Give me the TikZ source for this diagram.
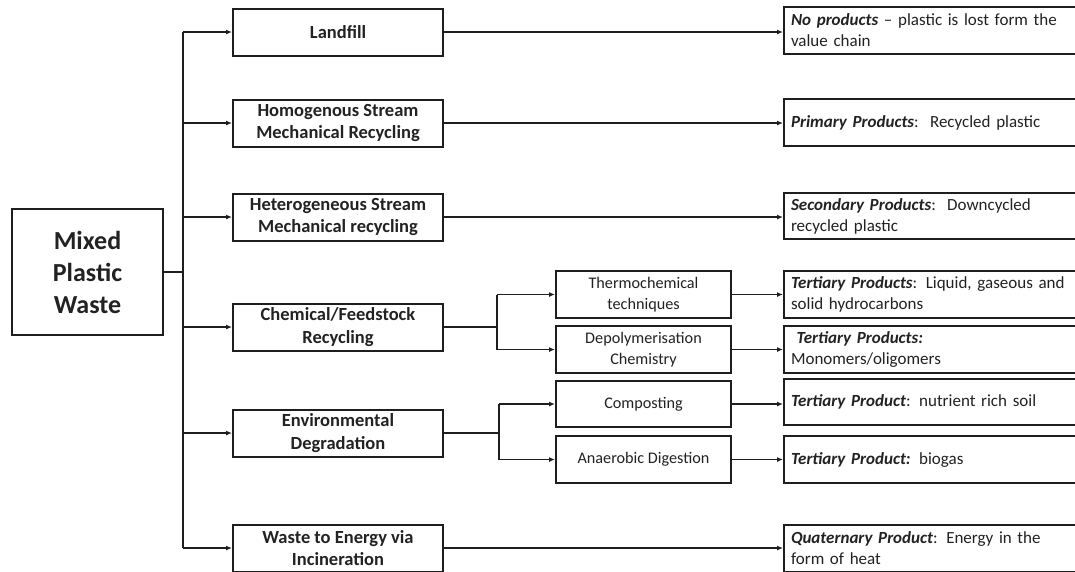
\documentclass[tikz,border=0pt]{standalone}
\usepackage{fontspec}
\setmainfont{Carlito}
\usetikzlibrary{arrows.meta}
\definecolor{ink}{HTML}{1E1E1E}
\definecolor{txt}{HTML}{222222}
\tikzset{
  box/.style={draw=ink, line width=2pt, fill=white, inner sep=0pt, align=center, text=txt},
  mainbox/.style={box, minimum width=210pt, minimum height=47pt, font=\fontsize{18.5}{22.5}\selectfont\bfseries},
  subbox/.style={box, minimum width=175pt, minimum height=47pt, font=\fontsize{16.2}{21}\selectfont},
  resbox/.style={box, minimum width=306pt, minimum height=47pt, text width=292pt, inner xsep=7pt, align=left, font=\fontsize{17}{21}\selectfont},
  conn/.style={draw=ink, line width=1.8pt},
  arr/.style={conn, -{Latex[length=6pt,width=5pt]}},
}
\newcommand{\bi}[1]{\textbf{\textit{#1}}}
\begin{document}
\begin{tikzpicture}[x=1pt,y=-1pt]
\useasboundingbox (0,0) rectangle (1075,571);
\clip (0,0) rectangle (1075,571);
\fill[white] (0,0) rectangle (1075,571);
% left box
\node[box, minimum width=151pt, minimum height=126pt, font=\fontsize{26}{32}\selectfont\bfseries] (M) at (87.5,272) {Mixed\\Plastic\\Waste};
% main column
\node[mainbox] (L) at (338,32) {Landfill};
\node[mainbox] (H) at (338,123) {Homogenous Stream\\Mechanical Recycling};
\node[mainbox] (E) at (338,217) {Heterogeneous Stream\\Mechanical recycling};
\node[mainbox] (C) at (338,327) {Chemical/Feedstock\\Recycling};
\node[mainbox] (V) at (338,433) {Environmental\\Degradation};
\node[mainbox] (W) at (338,548) {Waste to Energy via\\Incineration};
% sub column
\node[subbox] (T) at (643.5,294.5) {Thermochemical\\techniques};
\node[subbox] (D) at (643.5,349.5) {Depolymerisation\\Chemistry};
\node[subbox, minimum height=46pt] (K) at (643.5,404) {Composting};
\node[subbox] (A) at (643.5,459.5) {Anaerobic Digestion};
% results
\node[resbox] (R1) at (937,30.5) {\bi{No products} -- plastic is lost form the\\value chain};
\node[resbox] (R2) at (937,122.5) {\bi{Primary Products}:\ \ Recycled plastic};
\node[resbox, minimum height=46pt] (R3) at (937,216) {\bi{Secondary Products}:\ \ Downcycled\\recycled plastic};
\node[resbox] (R4) at (937,294.5) {\bi{Tertiary Products}: Liquid, gaseous and\\solid hydrocarbons};
\node[resbox] (R5) at (937,349.5) {\ \bi{Tertiary Products:}\\Monomers/oligomers};
\node[resbox, minimum height=46pt] (R6) at (937,402) {\bi{Tertiary Product}: nutrient rich soil};
\node[resbox] (R7) at (937,459.5) {\bi{Tertiary Product:} biogas};
\node[resbox] (R8) at (937,548) {\bi{Quaternary Product}: Energy in the\\form of heat};
% trunk
\coordinate (tr) at (183,272);
\draw[conn] (M.east) -- (tr);
\draw[conn] (tr |- L.west) -- (tr |- W.west);
\foreach \n in {L,H,E,C,V,W}{
  \draw[arr] (tr |- \n.west) -- (\n.west);
}
% direct results
\draw[arr] (L.east) -- (L.east -| R1.west);
\draw[arr] (H.east) -- (H.east -| R2.west);
\draw[arr] (E.east) -- (E.east -| R3.west);
\draw[arr] (W.east) -- (W.east -| R8.west);
% chemical branch
\coordinate (cb) at (497,327);
\draw[conn] (C.east) -- (cb);
\draw[conn] (cb |- T.west) -- (cb |- D.west);
\draw[arr] (cb |- T.west) -- (T.west);
\draw[arr] (cb |- D.west) -- (D.west);
% environmental branch
\coordinate (vb) at (499,433);
\draw[conn] (V.east) -- (vb);
\draw[conn] (vb |- K.west) -- (vb |- A.west);
\draw[arr] (vb |- K.west) -- (K.west);
\draw[arr] (vb |- A.west) -- (A.west);
% sub results
\draw[arr] (T.east) -- (T.east -| R4.west);
\draw[arr] (D.east) -- (D.east -| R5.west);
\draw[arr] (K.east) -- (K.east -| R6.west);
\draw[arr] (A.east) -- (A.east -| R7.west);
\end{tikzpicture}
\end{document}
